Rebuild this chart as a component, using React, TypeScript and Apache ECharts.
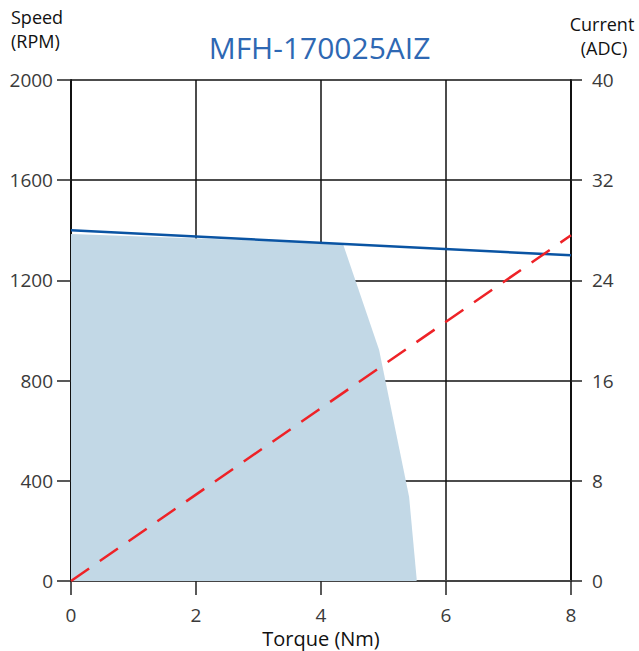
import React, { useEffect, useRef } from "react";
import * as echarts from "echarts";

const titleText = "MFH-170025AIZ";
const speedLine: [number, number][] = [[0, 1400], [8, 1300]];
const currentLine: [number, number][] = [[0, 0], [8, 27.6]];
const intermittentZone: [number, number][] = [
  [0, 1385],
  [4.35, 1347],
  [4.93, 922],
  [5.41, 335],
  [5.53, 10],
];
const xTicks = [0, 2, 4, 6, 8];

export default function App() {
  const ref = useRef<HTMLDivElement>(null);
  useEffect(() => {
    if (!ref.current) return;
    const chart = echarts.init(ref.current, null, { renderer: "svg" });
    const font = "'Open Sans', 'Noto Sans', sans-serif";
    const labelStyle = { color: "#3a3a3a", fontSize: 19, fontFamily: font };
    const cornerText = (text: string, x: number, y: number, align: string) => ({
      type: "text",
      x,
      y,
      style: { text, fontSize: 18, fill: "#111", fontFamily: font, align, verticalAlign: "middle" },
    });
    chart.setOption({
      animation: false,
      backgroundColor: "#fff",
      title: {
        text: titleText,
        left: "center",
        top: 27,
        textStyle: { color: "#2e68b3", fontSize: 30, fontWeight: "normal", fontFamily: font },
      },
      graphic: [
        cornerText("Speed", 11, 17, "left"),
        cornerText("(RPM)", 11, 41, "left"),
        cornerText("Current", 602, 24, "center"),
        cornerText("(ADC)", 604, 48, "center"),
      ],
      grid: { left: 71, right: 68, top: 80, bottom: 70, outerBoundsMode: "none", containLabel: false },
      xAxis: {
        type: "value",
        min: 0,
        max: 8,
        interval: 2,
        name: "Torque (Nm)",
        nameLocation: "middle",
        nameGap: 44,
        nameTextStyle: { color: "#111", fontSize: 20, fontFamily: font },
        axisLine: { onZero: false, lineStyle: { color: "#444", width: 2 } },
        axisTick: { show: true, length: 14, inside: false, lineStyle: { color: "#222", width: 1.5 } },
        axisLabel: { ...labelStyle, margin: 24, formatter: (v: number) => (xTicks.includes(v) ? String(v) : "") },
        splitLine: { show: true, lineStyle: { color: "#111", width: 1.5 } },
      },
      yAxis: [
        {
          type: "value",
          min: 0,
          max: 2000,
          interval: 400,
          position: "left",
          axisLine: { show: true, onZero: false, lineStyle: { color: "#111", width: 2 } },
          axisTick: { show: true, inside: false, length: 14, lineStyle: { color: "#222", width: 1.5 } },
          axisLabel: { ...labelStyle, margin: 18, formatter: (v: number) => String(v) },
          splitLine: { show: true, lineStyle: { color: "#111", width: 1.5 } },
        },
        {
          type: "value",
          min: 0,
          max: 40,
          interval: 8,
          position: "right",
          axisLine: { show: true, onZero: false, lineStyle: { color: "#111", width: 2 } },
          axisTick: { show: true, inside: false, length: 11, lineStyle: { color: "#222", width: 1.5 } },
          axisLabel: { ...labelStyle, margin: 21, formatter: (v: number) => String(v) },
          splitLine: { show: false },
        },
      ],
      series: [
        {
          type: "line",
          data: intermittentZone,
          symbol: "none",
          lineStyle: { width: 0, color: "#c2d8e6" },
          areaStyle: { color: "#c2d8e6", opacity: 1 },
          z: 1,
        },
        {
          type: "line",
          data: speedLine,
          symbol: "none",
          lineStyle: { color: "#0a54a3", width: 2.5 },
          z: 3,
        },
        {
          type: "line",
          yAxisIndex: 1,
          data: currentLine,
          symbol: "none",
          lineStyle: { color: "#ee2227", width: 2.5, type: [22, 13] },
          z: 3,
        },
      ],
    });
    return () => chart.dispose();
  }, []);
  return <div ref={ref} style={{ position: "fixed", left: 0, top: 0, width: 639, height: 651 }} />;
}
